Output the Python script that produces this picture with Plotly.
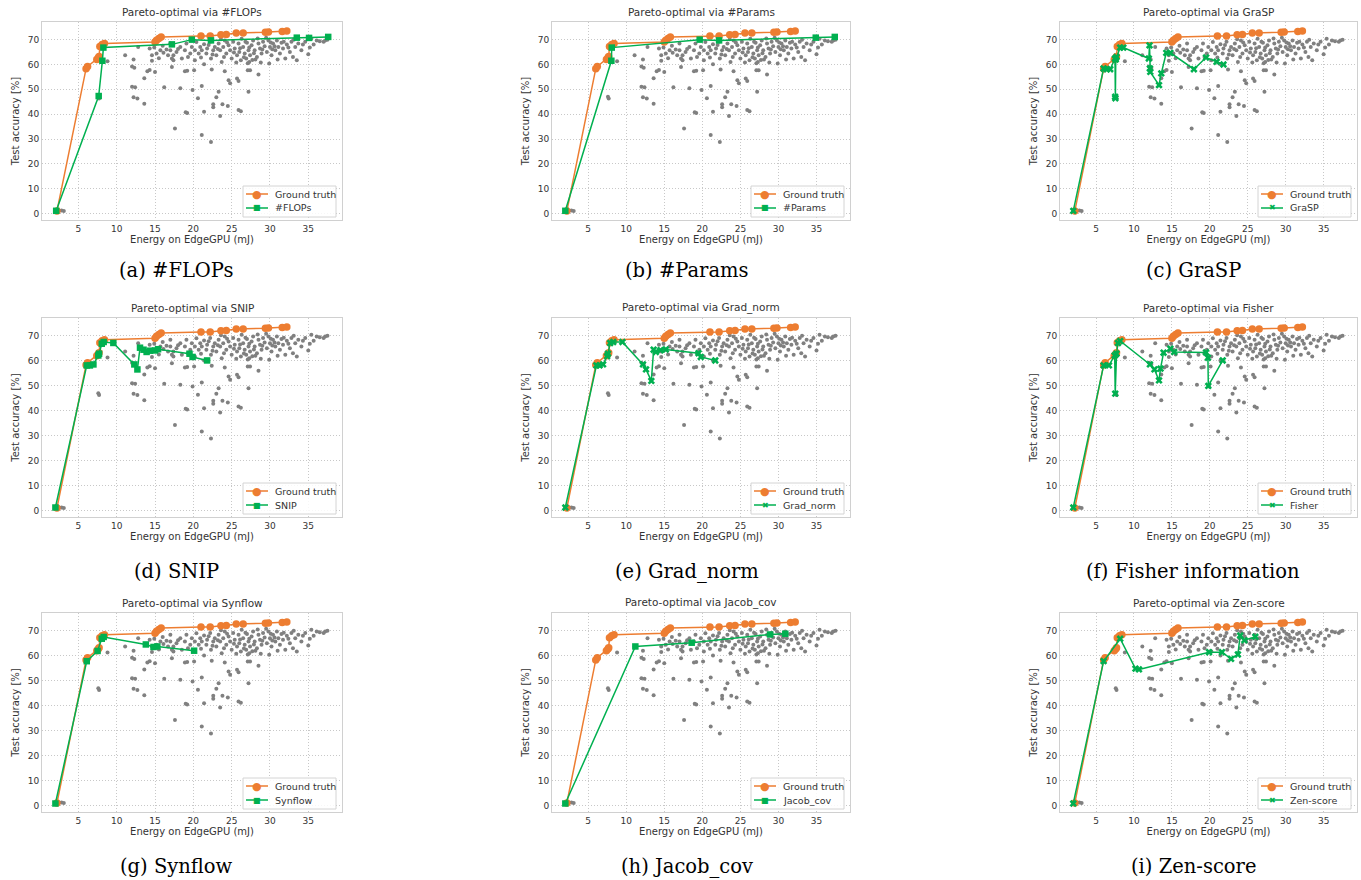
import plotly.graph_objects as go

W, H = 1361, 880

# ---------------- data ----------------
gray_x = [2.8, 3.1, 7.6, 7.7, 8.8, 11.1, 12.2, 12.0, 12.3, 12.0, 12.4, 12.2, 12.7, 13.6, 12.8, 13.6, 14.0, 14.3,
          14.6, 14.6, 15.0, 16.2, 17.0, 17.4, 17.6, 17.2, 17.2, 18.3, 18.9, 19.2, 19.0, 19.2, 19.9, 20.1, 20.2,
          20.6, 21.1, 21.1, 21.4, 21.4, 22.4, 22.3, 22.6, 22.6, 23.0, 23.3, 23.5, 23.8, 24.5, 24.1, 24.6, 24.8,
          25.7, 25.9, 25.9, 26.2, 27.2, 27.1, 27.4, 28.5, 29.9, 35.0, 35.7, 37.2,
          14.3, 14.9, 15.2, 15.7, 16.1, 16.5, 17.0, 16.7, 17.4, 17.8, 18.3, 18.5, 18.9, 19.1, 19.6, 19.8, 16.0,
          18.0, 19.3, 15.5,
          20.2, 20.4, 20.7, 20.9, 21.1, 21.4, 21.7, 21.8, 22.2, 22.3, 22.6, 22.8, 23.0, 23.3, 23.5, 23.7, 23.9,
          24.1, 24.3, 24.6, 24.8, 25.0, 25.2, 25.4, 25.7, 25.9, 26.0, 26.2, 26.3, 26.5, 26.7, 26.9, 27.0, 27.2,
          27.3, 27.4, 21.0, 22.0, 23.2, 24.0, 24.4, 25.3, 25.6, 26.1, 26.6, 26.8, 27.1, 27.3, 23.6, 22.5,
          27.6, 27.8, 28.0, 28.3, 28.5, 28.7, 28.9, 29.1, 29.3, 29.6, 29.8, 30.0, 30.2, 30.4, 30.7, 30.9, 31.1,
          31.3, 31.5, 31.7, 32.0, 32.2, 32.6, 32.8, 33.0, 33.3, 33.5, 33.7, 27.7, 28.1, 28.4, 29.0, 29.5, 30.1,
          30.6, 31.0, 31.8, 32.4, 33.1, 28.8, 27.9, 30.3,
          34.1, 34.6, 35.4, 36.1, 36.5, 37.0, 34.3, 35.2, 37.5]
gray_y = [1.2, 1.0, 47.0, 46.3, 61.3, 63.7, 62.0, 59.2, 58.7, 51.0, 50.8, 46.8, 46.3, 44.2, 67.0, 54.5, 57.3, 57.8,
          61.5, 63.7, 57.0, 50.8, 65.7, 63.7, 34.2, 62.4, 59.0, 50.4, 57.3, 57.5, 40.8, 40.5, 49.7, 57.7, 61.7,
          46.4, 51.3, 31.6, 60.1, 41.0, 58.0, 28.8, 44.0, 42.8, 46.8, 49.0, 39.3, 44.0, 43.3, 57.3, 53.7, 52.4,
          54.4, 53.4, 41.7, 41.2, 49.0, 57.7, 57.7, 56.0, 60.4, 64.1, 68.0, 69.7,
          66.4, 66.8, 64.4, 65.7, 64.7, 66.0, 68.4, 63.7, 61.7, 65.0, 67.0, 62.4, 65.7, 68.4, 64.4, 67.0, 67.5,
          66.2, 63.0, 62.5,
          65.7, 69.0, 64.4, 67.0, 65.7, 68.1, 64.4, 66.4, 69.1, 62.4, 65.7, 67.0, 63.7, 68.4, 65.7, 61.0, 67.0,
          69.7, 64.4, 67.7, 65.7, 62.4, 69.1, 66.4, 63.7, 68.4, 65.0, 61.7, 70.4, 67.0, 64.4, 62.4, 68.7, 65.7,
          61.0, 63.7, 62.8, 67.8, 66.2, 63.0, 68.8, 64.8, 60.8, 66.5, 62.9, 69.2, 60.5, 66.8, 70.2, 64.0,
          67.7, 69.7, 65.7, 63.0, 68.4, 66.4, 64.4, 69.1, 67.3, 65.0, 69.7, 67.0, 63.7, 68.4, 65.7, 69.7, 67.0,
          64.4, 68.7, 66.4, 62.4, 68.0, 65.0, 69.1, 63.0, 67.0, 61.7, 68.4, 61.8, 62.0, 70.5, 66.0, 70.8, 68.8,
          67.3, 62.0, 69.2, 66.8, 70.0, 60.8, 64.5, 66.1,
          65.7, 69.1, 70.4, 69.7, 69.4, 69.1, 68.0, 66.8, 70.0]

gt_x = [2.2, 6.0, 6.2, 7.4, 7.6, 7.7, 7.8, 8.1, 8.4, 15.0, 15.2, 15.5, 15.8, 21.0, 22.2, 23.6, 24.3, 25.6,
        26.5, 29.4, 29.8, 31.6, 32.2]
gt_y = [1.0, 58.3, 59.2, 62.0, 62.7, 63.2, 67.2, 68.0, 68.4, 69.0, 69.8, 70.5, 71.1, 71.5, 71.5, 72.0, 72.1,
        72.7, 72.7, 73.0, 73.1, 73.3, 73.5]

flops_x = [2.1, 7.65, 8.13, 8.26, 17.2, 19.8, 22.3, 33.5, 35.1, 37.6]
flops_y = [1.1, 47.3, 61.5, 66.8, 68.1, 70.0, 69.7, 70.8, 70.7, 71.1]

params_x = [2.0, 8.05, 8.1, 19.65, 22.2, 34.9, 37.4]
params_y = [1.1, 61.5, 66.8, 70.0, 69.7, 70.8, 71.1]

grasp_x = [2.0, 6.0, 6.43, 6.87, 7.50, 7.52, 7.55, 7.6, 7.7, 8.18, 8.6, 11.96, 12.05, 12.1, 12.15, 13.3, 13.6,
           14.26, 14.8, 17.9, 19.5, 20.9, 21.8]
grasp_y = [1.1, 58.4, 58.1, 58.1, 62.4, 47.0, 46.4, 62.0, 63.0, 66.8, 66.8, 62.4, 67.7, 58.4, 57.0, 51.7, 56.4,
           64.7, 64.7, 58.1, 62.8, 61.1, 60.0]

snip_x = [2.0, 6.09, 6.5, 6.96, 7.6, 7.7, 8.05, 8.3, 9.56, 12.3, 12.7, 13.04, 13.5, 13.9, 14.35, 15.0, 15.4,
          19.5, 19.9, 21.8]
snip_y = [1.2, 58.1, 58.1, 58.5, 62.1, 62.8, 66.8, 67.5, 67.1, 58.5, 56.5, 65.2, 64.4, 63.5, 64.0, 64.1, 64.6,
          62.8, 61.5, 60.1]

gradnorm_x = [2.0, 6.09, 6.5, 6.96, 7.5, 7.6, 7.9, 8.3, 9.5, 12.2, 12.6, 13.3, 13.6, 13.9, 14.5, 15.2, 19.5,
              19.8, 21.7]
gradnorm_y = [1.2, 58.1, 58.1, 58.5, 61.8, 62.8, 67.1, 67.5, 67.5, 58.5, 56.5, 51.9, 64.4, 63.5, 64.2, 64.5,
              63.0, 61.5, 60.1]

fisher_x = [2.0, 6.0, 6.7, 7.46, 7.53, 7.7, 7.9, 8.18, 12.1, 12.7, 13.3, 13.5, 13.9, 14.8, 15.3, 19.5, 19.75,
            19.8, 21.7]
fisher_y = [1.2, 58.1, 58.1, 62.1, 46.8, 62.8, 67.1, 67.9, 58.5, 56.5, 52.1, 56.8, 63.2, 64.8, 63.5, 63.3, 61.2,
            49.9, 60.1]

synflow_x = [2.0, 6.09, 7.5, 8.05, 8.3, 13.8, 14.8, 15.3, 20.1]
synflow_y = [0.8, 57.8, 61.9, 66.8, 67.5, 64.5, 63.5, 63.7, 62.0]

jacob_x = [2.0, 11.2, 18.6, 28.9, 30.9]
jacob_y = [0.8, 63.7, 65.2, 68.5, 68.8]

zen_x = [2.0, 6.0, 8.18, 10.2, 10.66, 19.9, 21.6, 22.8, 23.7, 24.0, 24.56, 26.0]
zen_y = [0.8, 57.8, 66.8, 54.8, 54.5, 61.4, 61.4, 58.7, 60.5, 68.1, 66.2, 67.6]

method_names = ["#FLOPs", "#Params", "GraSP", "SNIP", "Grad_norm", "Fisher", "Synflow", "Jacob_cov", "Zen-score"]
captions = ["(a) #FLOPs", "(b) #Params", "(c) GraSP", "(d) SNIP", "(e) Grad_norm", "(f) Fisher information",
            "(g) Synflow", "(h) Jacob_cov", "(i) Zen-score"]
method_x = [flops_x, params_x, grasp_x, snip_x, gradnorm_x, fisher_x, synflow_x, jacob_x, zen_x]
method_y = [flops_y, params_y, grasp_y, snip_y, gradnorm_y, fisher_y, synflow_y, jacob_y, zen_y]
method_symbol = ["square", "square", "x", "square", "x", "x", "square", "square", "x"]
legend_glyph = {"square": "\u25A0", "x": "\u2716"}

x_ticks = [5, 10, 15, 20, 25, 30, 35]
y_ticks = [0, 10, 20, 30, 40, 50, 60, 70]

# ---------------- layout geometry (pixels) ----------------
cols = [(42, 342), (552, 850), (1060, 1357)]
rows = [(22, 220), (318, 517), (613, 812)]
caption_cx = [176, 687, 1193]
caption_cy = [270, 571, 866]

ORANGE = "#ED7D31"
GREEN = "#00B050"
GRAY = "#808080"
TXT = "#333333"
FONT = "DejaVu Sans"


def px(xp):
    return xp / W


def py(yp):
    return 1 - yp / H


fig = go.Figure()
layout = dict(width=W, height=H, margin=dict(l=0, r=0, t=0, b=0, autoexpand=False), plot_bgcolor="white",
              paper_bgcolor="white", font=dict(family=FONT, color=TXT), annotations=[], shapes=[],
              showlegend=False)

for i in range(9):
    r, c = divmod(i, 3)
    sx = "" if i == 0 else str(i + 1)
    xa, ya = "x" + sx, "y" + sx
    fig.add_trace(go.Scatter(x=gray_x, y=gray_y, mode="markers", xaxis=xa, yaxis=ya,
                             marker=dict(color=GRAY, size=4), hoverinfo="skip"))
    fig.add_trace(go.Scatter(x=gt_x, y=gt_y, mode="lines+markers", xaxis=xa, yaxis=ya, name="Ground truth",
                             line=dict(color=ORANGE, width=1.5), marker=dict(color=ORANGE, size=7.5, symbol="circle")))
    fig.add_trace(go.Scatter(x=method_x[i], y=method_y[i], mode="lines+markers", xaxis=xa, yaxis=ya,
                             name=method_names[i], line=dict(color=GREEN, width=1.5),
                             marker=dict(color=GREEN, size=6.5, symbol=method_symbol[i])))
    x0, x1 = cols[c]
    y0, y1 = rows[r]
    common = dict(showgrid=True, gridcolor="#c8c8c8", griddash="1px,2px", gridwidth=1, showline=True, mirror=True,
                  linecolor="#d0d0d0", linewidth=1, zeroline=False, ticks="", automargin=False,
                  tickfont=dict(size=9, color=TXT, family=FONT))
    layout["xaxis" + sx] = dict(common, domain=[x0 / W, x1 / W], range=[0.25, 39.4], tickvals=x_ticks,
                                anchor=ya, title=dict(text="Energy on EdgeGPU (mJ)", font=dict(size=10), standoff=3))
    layout["yaxis" + sx] = dict(common, domain=[1 - y1 / H, 1 - y0 / H], range=[-2.6, 77.1], tickvals=y_ticks,
                                anchor=xa, title=dict(text="Test accuracy [%]", font=dict(size=10), standoff=6))

    # legend box (matplotlib-style, lower right)
    layout["shapes"].append(dict(type="rect", xref="paper", yref="paper", x0=px(x1 - 99), x1=px(x1 - 6),
                                 y0=py(y1 - 3), y1=py(y1 - 34), fillcolor="rgba(255,255,255,0.85)",
                                 line=dict(color="#d4d4d4", width=1), layer="above"))
    for k, (col, label, glyph, gsize) in enumerate([(ORANGE, "Ground truth", "\u25CF", 11),
                                                     (GREEN, method_names[i], legend_glyph[method_symbol[i]], 8)]):
        yc = y1 - 26 + 14 * k
        layout["shapes"].append(dict(type="line", xref="paper", yref="paper", x0=px(x1 - 96), x1=px(x1 - 74),
                                     y0=py(yc), y1=py(yc), line=dict(color=col, width=1.5), layer="above"))
        layout["annotations"].append(dict(text=glyph, xref="paper", yref="paper", x=px(x1 - 85), y=py(yc),
                                          xanchor="center", yanchor="middle", showarrow=False,
                                          font=dict(size=gsize, color=col, family=FONT)))
        layout["annotations"].append(dict(text=label, xref="paper", yref="paper", x=px(x1 - 69), y=py(yc),
                                          xanchor="left", yanchor="middle", showarrow=False,
                                          font=dict(size=9.5, color=TXT, family=FONT)))

    layout["annotations"].append(dict(text="Pareto-optimal via " + method_names[i], xref="paper", yref="paper",
                                      x=(x0 + x1) / 2 / W, y=1 - y0 / H, xanchor="center", yanchor="bottom",
                                      yshift=2, showarrow=False, font=dict(size=10.5, color=TXT)))
    layout["annotations"].append(dict(text=captions[i], xref="paper", yref="paper",
                                      x=caption_cx[c] / W, y=1 - caption_cy[r] / H, xanchor="center",
                                      yanchor="middle", showarrow=False,
                                      font=dict(size=19.5, color="black", family="DejaVu Serif")))

fig.update_layout(**layout)
fig.write_html("out.html", config={"displayModeBar": False},
               post_script="document.body.style.margin='0';document.body.style.overflow='hidden';")
